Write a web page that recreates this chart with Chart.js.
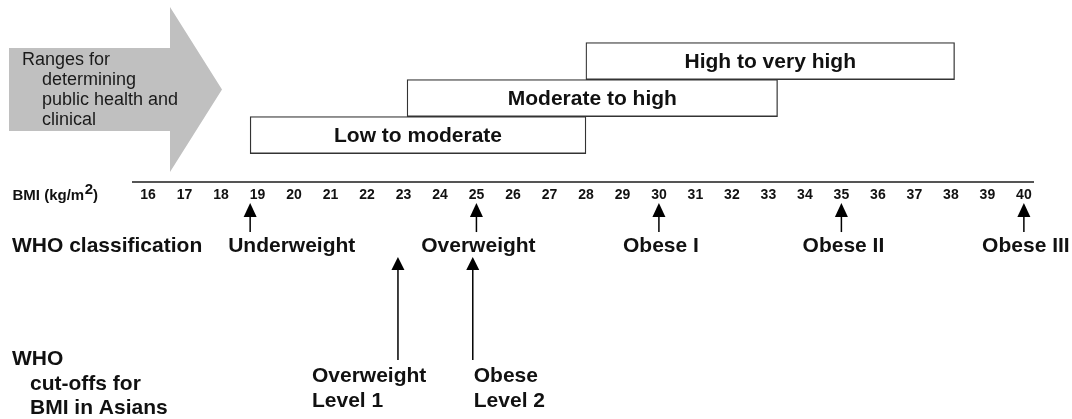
<!DOCTYPE html>
<html><head><meta charset="utf-8">
<script src="https://cdn.jsdelivr.net/npm/chart.js@4.4.1/dist/chart.umd.min.js"></script>
<style>html,body{margin:0;padding:0;background:#fff}#wrap{width:1072px;height:419px;position:relative}</style>
</head><body><div id="wrap"><canvas id="c"></canvas></div>
<script>
// ---------------- data ----------------
const riskLabels = ['Low to moderate', 'Moderate to high', 'High to very high'];
const riskStart = [18.8, 23.1, 28.0];
const riskEnd = [28.0, 33.25, 38.1];
const riskRow = [1, 2, 3];

const bmiTicks = [16, 17, 18, 19, 20, 21, 22, 23, 24, 25, 26, 27, 28, 29, 30, 31, 32, 33, 34, 35, 36, 37, 38, 39, 40];

const whoNames = ['Underweight', 'Overweight', 'Obese I', 'Obese II', 'Obese III'];
const whoCutoffs = [18.8, 25, 30, 35, 40];

const asianNames = [['Overweight', 'Level 1'], ['Obese', 'Level 2']];
const asianCutoffs = [22.85, 24.9];

const rangeTitle = ['Ranges for', 'determining', 'public health and', 'clinical'];
const whoTitle = 'WHO classification';
const asianTitle = ['WHO', 'cut-offs for', 'BMI in Asians'];

// ---------------- layout / style ----------------
const ROW_PX = 37;
const AXIS_LEVEL = -0.27;
const Y_MAX = 4.65;
const Y_MIN = Y_MAX - 419 / ROW_PX;
const FONT = '"Liberation Sans", Arial, Helvetica, sans-serif';
const NARROW = '"Liberation Sans Narrow", "Arial Narrow", "Liberation Sans", Arial, sans-serif';
const whoLabelStyle = { dx: [-22, 2, 2, 2, 2], align: ['left', 'center', 'center', 'center', 'center'] };
const asianLabelStyle = { dx: [-86, 1] };

function upArrow(ctx, x, yTip, yBase, yEnd, headW) {
  ctx.save();
  ctx.strokeStyle = '#000'; ctx.fillStyle = '#000'; ctx.lineWidth = 1.5;
  ctx.beginPath(); ctx.moveTo(x, yBase - 1); ctx.lineTo(x, yEnd); ctx.stroke();
  ctx.beginPath(); ctx.moveTo(x, yTip); ctx.lineTo(x + headW / 2, yBase); ctx.lineTo(x - headW / 2, yBase); ctx.closePath(); ctx.fill();
  ctx.restore();
}

const diagramPlugin = {
  id: 'diagram',
  beforeDatasetsDraw(chart) {
    const ctx = chart.ctx;
    ctx.save();
    // big grey block arrow
    ctx.fillStyle = '#c0c0c0';
    ctx.beginPath();
    ctx.moveTo(9, 48); ctx.lineTo(170, 48); ctx.lineTo(170, 7); ctx.lineTo(222, 89.5);
    ctx.lineTo(170, 172); ctx.lineTo(170, 131); ctx.lineTo(9, 131); ctx.closePath(); ctx.fill();
    ctx.fillStyle = '#1a1a1a';
    ctx.font = '18px ' + FONT;
    ctx.textAlign = 'left'; ctx.textBaseline = 'alphabetic';
    rangeTitle.forEach((t, i) => ctx.fillText(t, i === 0 ? 22 : 42, 65 + i * 20));
    ctx.restore();
  },
  afterDatasetsDraw(chart) {
    const ctx = chart.ctx;
    const meta = chart.getDatasetMeta(0);
    ctx.save();
    ctx.fillStyle = '#111';
    ctx.font = 'bold 21px ' + FONT;
    ctx.textAlign = 'center'; ctx.textBaseline = 'middle';
    meta.data.forEach((el, i) => {
      const p = el.getProps(['x', 'base', 'y'], true);
      ctx.fillText(riskLabels[i], (p.x + p.base) / 2, p.y + 1);
    });
    ctx.restore();
  },
  afterDraw(chart) {
    const ctx = chart.ctx;
    const xs = chart.scales.x;
    const axisY = chart.scales.y.getPixelForValue(AXIS_LEVEL);
    ctx.save();
    ctx.fillStyle = '#111';
    ctx.textBaseline = 'alphabetic';
    // BMI axis title
    ctx.font = 'bold 15px ' + FONT;
    ctx.textAlign = 'left';
    const base = 'BMI (kg/m';
    ctx.fillText(base, 12.5, axisY + 18);
    let w = ctx.measureText(base).width;
    ctx.fillText('2', 12.5 + w + 0.5, axisY + 12);
    w += ctx.measureText('2').width + 0.5;
    ctx.fillText(')', 12.5 + w, axisY + 18);

    // WHO classification row
    ctx.font = 'bold 21px ' + FONT;
    ctx.fillText(whoTitle, 12, axisY + 70);
    whoCutoffs.forEach((v, i) => {
      const x = xs.getPixelForValue(v);
      upArrow(ctx, x, axisY + 21, axisY + 35, axisY + 50, 13);
      ctx.textAlign = whoLabelStyle.align[i];
      ctx.fillText(whoNames[i], x + whoLabelStyle.dx[i], axisY + 70);
    });

    // Asian cut-offs row
    ctx.textAlign = 'left';
    asianTitle.forEach((t, i) => ctx.fillText(t, i === 0 ? 12 : 30, axisY + 183 + i * 24.5));
    asianCutoffs.forEach((v, i) => {
      const x = xs.getPixelForValue(v);
      upArrow(ctx, x, axisY + 75, axisY + 88, axisY + 178, 13);
      asianNames[i].forEach((t, j) => ctx.fillText(t, x + asianLabelStyle.dx[i], axisY + 200 + j * 25));
    });
    ctx.restore();
  }
};

new Chart(document.getElementById('c'), {
  type: 'bar',
  data: {
    datasets: [{
      data: riskRow.map((r, i) => ({ x: [riskStart[i], riskEnd[i]], y: r })),
      backgroundColor: '#ffffff',
      borderColor: '#333333',
      borderWidth: 1.3,
      borderSkipped: false,
      barThickness: ROW_PX
    }]
  },
  options: {
    indexAxis: 'y',
    responsive: true,
    maintainAspectRatio: false,
    animation: false,
    events: [],
    layout: { padding: { left: 133, right: 39, top: 0, bottom: 0 } },
    plugins: { legend: { display: false }, tooltip: { enabled: false }, title: { display: false } },
    scales: {
      y: { type: 'linear', display: false, offset: false, min: Y_MIN, max: Y_MAX },
      x: {
        type: 'linear', min: 15.59, max: 40.25, offset: false,
        position: { y: AXIS_LEVEL },
        grid: { display: false, drawTicks: false },
        border: { display: true, color: '#555555', width: 2 },
        afterBuildTicks: s => { s.ticks = bmiTicks.map(v => ({ value: v })); },
        ticks: {
          autoSkip: false, maxRotation: 0, padding: 5, color: '#111',
          font: { family: NARROW, size: 14, weight: 'bold' },
          callback: v => String(v)
        }
      }
    }
  },
  plugins: [diagramPlugin]
});
</script>
</body></html>
